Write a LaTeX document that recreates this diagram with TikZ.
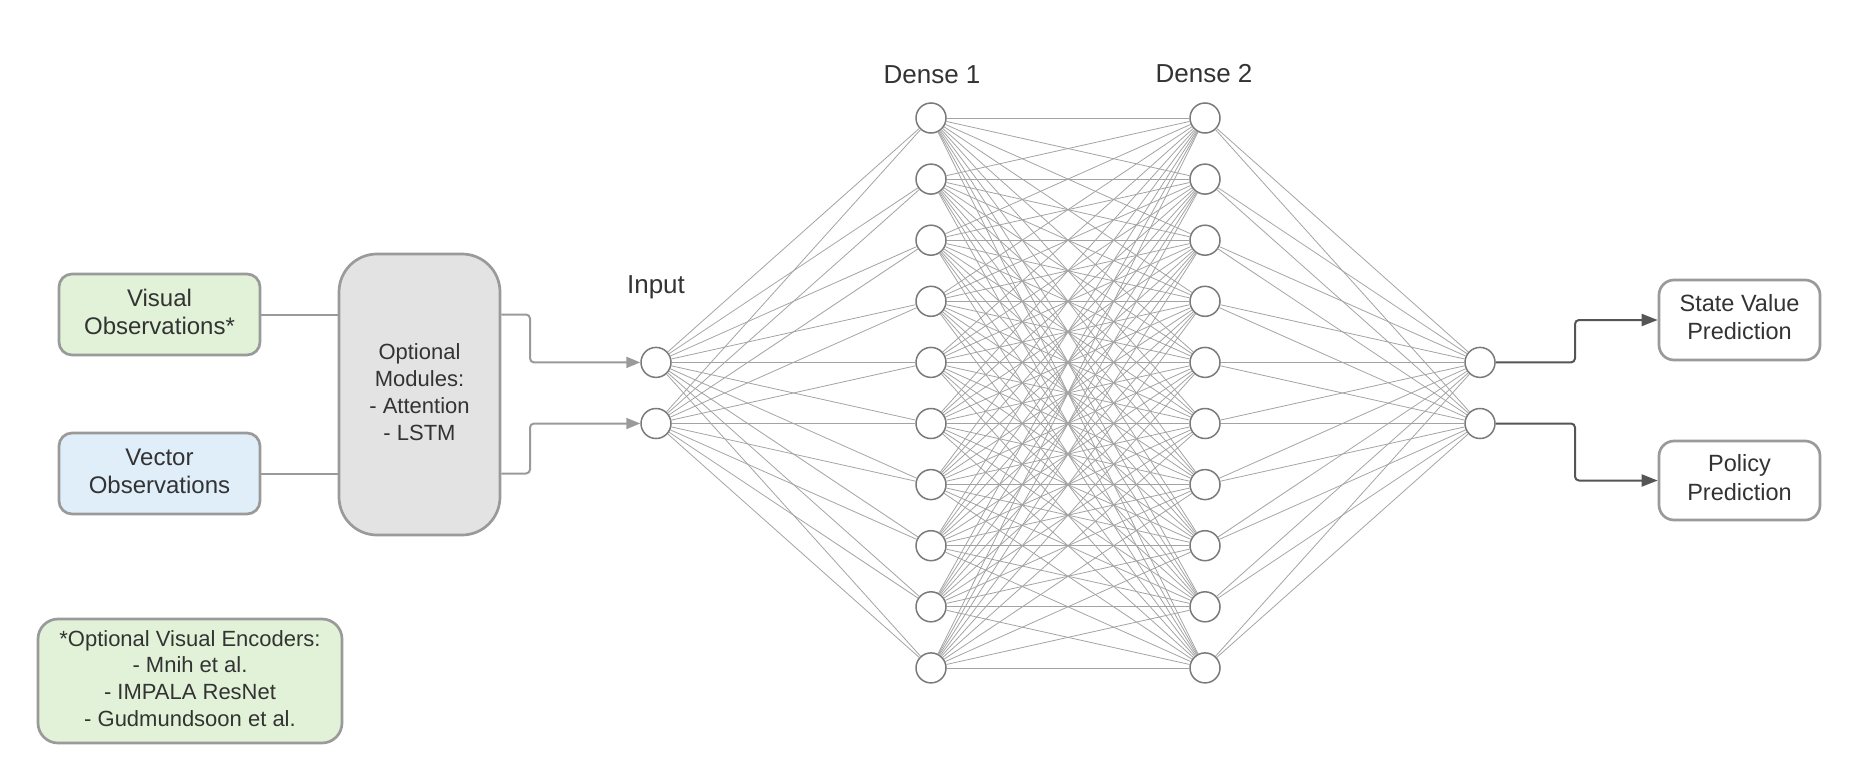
\documentclass[tikz,border=0pt]{standalone}
\usepackage{fontspec}
\setmainfont{Liberation Sans}
\usetikzlibrary{arrows.meta}
\definecolor{txt}{HTML}{333333}
\definecolor{edgegray}{HTML}{9A9A9A}
\definecolor{greenfill}{HTML}{E2F2D8}
\definecolor{bluefill}{HTML}{DFEEF9}
\definecolor{modfill}{HTML}{E3E3E3}
\definecolor{wiregray}{HTML}{A3A3A3}
\definecolor{neurondraw}{HTML}{7A7A7A}
\definecolor{outgray}{HTML}{555555}

% centred multi-line box text, lifted slightly above the box centre
\newcommand{\boxlines}[1]{\raisebox{3.5pt}{\begin{tabular}{@{}c@{}}#1\end{tabular}}}

\begin{document}
\begin{tikzpicture}[x=1pt,y=-1pt,
  box/.style={draw=edgegray, line width=2.7pt, rounded corners=13pt, align=center, text=txt, inner sep=0pt},
  unit/.style={circle, draw=neurondraw, line width=1.5pt, fill=white, minimum size=30pt, inner sep=0pt},
  wire/.style={draw=wiregray, line width=0.8pt},
  feedarrow/.style={draw=edgegray, line width=2pt, rounded corners=4pt, -{Triangle[length=14pt,width=11pt]}},
  headarrow/.style={draw=outgray, line width=2pt, rounded corners=4pt, -{Triangle[length=16pt,width=12pt]}},
  layerlabel/.style={text=txt, font=\fontsize{26}{30}\selectfont}
]
\useasboundingbox (0,0) rectangle (1860,779);

% observation inputs and optional modules
\node[box, fill=greenfill, minimum width=201pt, minimum height=81pt, font=\fontsize{24}{28}\selectfont]
  (vis) at (159.5,314.5) {\boxlines{Visual\\Observations*}};
\node[box, fill=bluefill, minimum width=201pt, minimum height=81pt, font=\fontsize{24}{28}\selectfont]
  (vec) at (159.5,473.5) {\boxlines{Vector\\Observations}};
\node[box, fill=modfill, rounded corners=38pt, minimum width=161pt, minimum height=281pt, font=\fontsize{22}{27}\selectfont]
  (mod) at (419.5,394.5) {\boxlines{Optional\\Modules:\\- Attention\\- LSTM}};
\node[box, fill=greenfill, rounded corners=20pt, minimum width=304pt, minimum height=124pt, font=\fontsize{22}{26.7}\selectfont]
  (enc) at (190,681) {\boxlines{*Optional Visual Encoders:\\- Mnih et al.\\- IMPALA ResNet\\- Gudmundsoon et al.}};

% prediction heads
\node[box, fill=white, rounded corners=15pt, minimum width=161pt, minimum height=80pt, font=\fontsize{23.5}{28.5}\selectfont]
  (state) at (1739.5,320) {\boxlines{State Value\\Prediction}};
\node[box, fill=white, rounded corners=15pt, minimum width=161pt, minimum height=79pt, font=\fontsize{23.5}{28.5}\selectfont]
  (policy) at (1739.5,480.5) {\boxlines{Policy\\Prediction}};

% network units
\node[unit] (i1) at (656,362.4) {};
\node[unit] (i2) at (656,423.5) {};
\node[unit] (o1) at (1480,362.4) {};
\node[unit] (o2) at (1480,423.5) {};
\foreach \k in {1,...,10} {
  \node[unit] (a\k) at (931,{118+61.1*(\k-1)}) {};
  \node[unit] (b\k) at (1205,{118+61.1*(\k-1)}) {};
}

% layer labels
\node[layerlabel] (lin) at (656,287) {Input};
\node[layerlabel] (lda) at (932,75) {Dense 1};
\node[layerlabel] (ldb) at (1204,74) {Dense 2};

% dense connections
\foreach \k in {1,...,10} {
  \foreach \j in {1,2} {
    \draw[wire] (i\j) -- (a\k);
    \draw[wire] (b\k) -- (o\j);
  }
  \foreach \m in {1,...,10} {
    \draw[wire] (a\k) -- (b\m);
  }
}

% observation links
\draw[draw=edgegray, line width=2pt] (vis.east) -- (vis.east -| mod.west);
\draw[draw=edgegray, line width=2pt] (vec.east) -- (vec.east -| mod.west);
\draw[feedarrow] (mod.east |- vis.east) -- (530,314.5) -- (530,362.4) -- (i1.west);
\draw[feedarrow] (mod.east |- vec.east) -- (530,473.5) -- (530,423.5) -- (i2.west);

% output links
\draw[headarrow] (o1.east) -- (1575,362.4) -- (1575,320) -- (state.west);
\draw[headarrow] (o2.east) -- (1575,423.5) -- (1575,480.5) -- (policy.west);
\end{tikzpicture}
\end{document}
